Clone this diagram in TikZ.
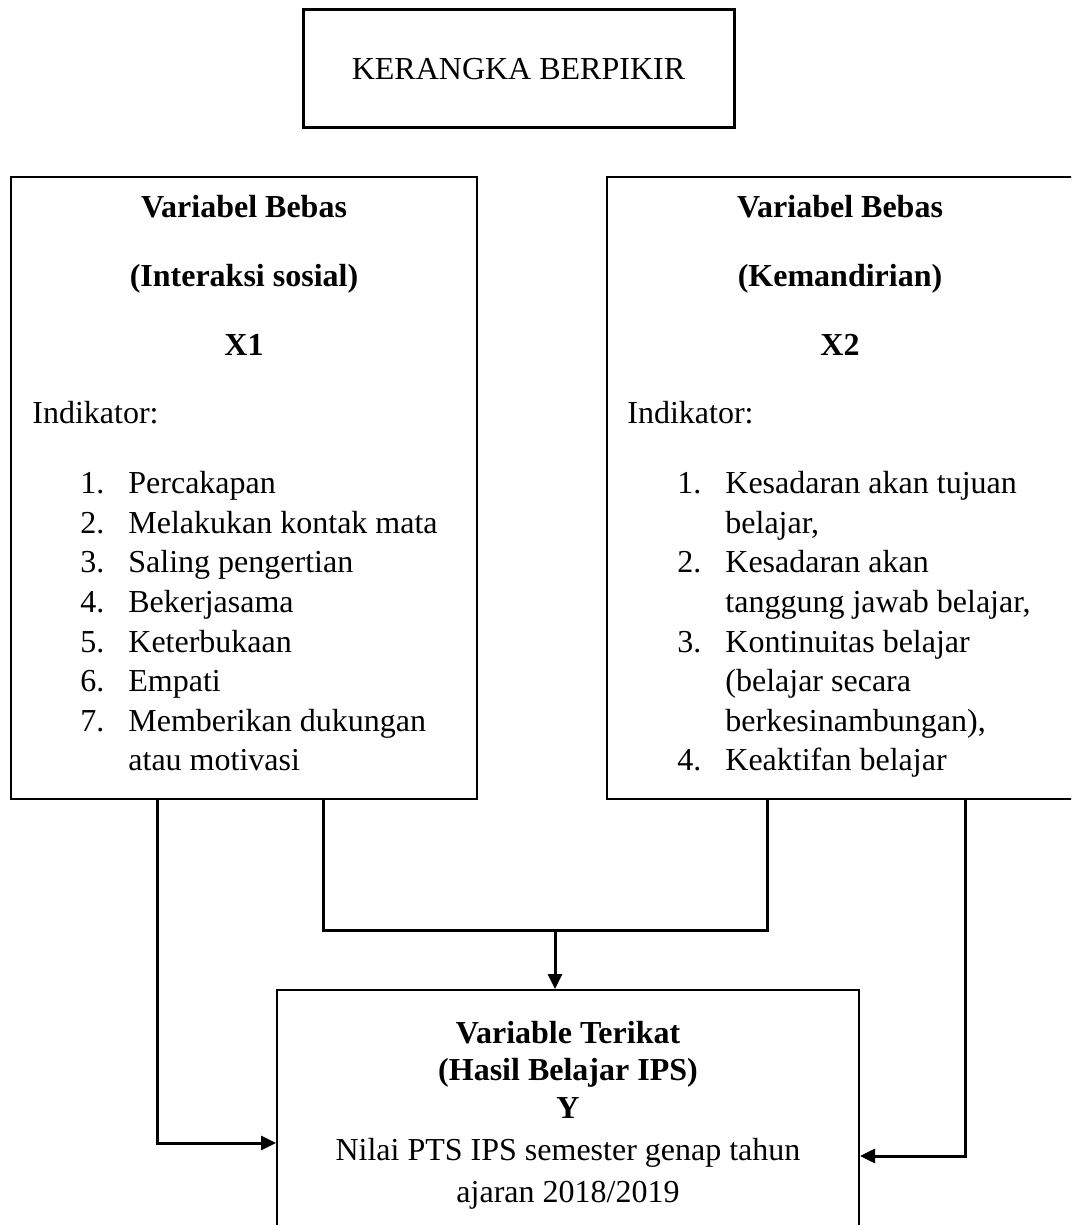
\documentclass[tikz,border=0pt]{standalone}
\usepackage{fontspec}
\setmainfont{Liberation Serif}
\usetikzlibrary{arrows.meta, positioning}

\begin{document}
\begin{tikzpicture}[x=0.5pt,y=-0.5pt,
    every node/.style={font=\fontsize{16}{19.8}\selectfont,inner sep=0pt},
    tebal/.style={font=\fontsize{16}{19.8}\selectfont\bfseries},
    kotak/.style={draw,line width=1pt,inner sep=0pt},
    garis/.style={line width=1.5pt},
    panah/.style={line width=1.5pt,-{Triangle[length=7.5pt,width=7pt]}}]
    \useasboundingbox (0,0) rectangle (1071,1225);
    \clip (0,0) rectangle (1071,1225);
    % Boxes
    \node[kotak,line width=1.5pt,minimum width=215.5pt,minimum height=59pt] (judul) at (518.5,69) {KERANGKA BERPIKIR};
    \node[kotak,minimum width=233pt,minimum height=311pt] (x1) at (244,488) {};
    \node[kotak,minimum width=233.5pt,minimum height=311pt] (x2) at (840.5,488) {};
    \node[kotak,minimum width=291pt,minimum height=125pt] (y) at (568,1115) {};
    % Headings of the two free variables
    \foreach \y/\t [count=\i] in {218/Variabel Bebas, 286/{(Interaksi sosial)}, 355/X1}
        \node[tebal,anchor=base] (x1-h\i) at (244,\y) {\t};
    \foreach \y/\t [count=\i] in {218/Variabel Bebas, 286/{(Kemandirian)}, 355/X2}
        \node[tebal,anchor=base] (x2-h\i) at (840,\y) {\t};
    \node[anchor=base west] (x1-ind) at (32,423) {Indikator:};
    \node[anchor=base west] (x2-ind) at (627,423) {Indikator:};
    % Indicator lists
    \foreach \y/\n/\t [count=\i] in {493/1./Percakapan, 533/2./Melakukan kontak mata, 572/3./Saling pengertian, 612/4./Bekerjasama, 652/5./Keterbukaan, 691/6./Empati, 731/7./Memberikan dukungan, 770//atau motivasi} {
        \node[anchor=base west] (x1-n\i) at (80,\y) {\n};
        \node[anchor=base west] (x1-t\i) at (128,\y) {\t};
    }
    \foreach \y/\n/\t [count=\i] in {493/1./Kesadaran akan tujuan, 533//{belajar,}, 572/2./Kesadaran akan, 612//{tanggung jawab belajar,}, 652/3./Kontinuitas belajar, 691//{(belajar secara}, 731//{berkesinambungan),}, 770/4./Keaktifan belajar} {
        \node[anchor=base west] (x2-n\i) at (677,\y) {\n};
        \node[anchor=base west] (x2-t\i) at (725,\y) {\t};
    }
    % Dependent variable
    \foreach \y/\t [count=\i] in {1043/Variable Terikat, 1080/{(Hasil Belajar IPS)}, 1118/Y}
        \node[tebal,anchor=base] (y-h\i) at (568,\y) {\t};
    \node[anchor=base] (y-t1) at (568,1160) {Nilai PTS IPS semester genap tahun};
    \node[anchor=base] (y-t2) at (568,1202) {ajaran 2018/2019};
    % Connectors
    \coordinate (kiri) at (157,1143);
    \coordinate (kanan) at (965,1156);
    \coordinate (a1) at (323,930);
    \coordinate (a2) at (767,930);
    \coordinate (tengah) at (555,930);
    \draw[panah] (x1.south -| kiri) |- (y.west |- kiri);
    \draw[panah] (x2.south -| kanan) |- (y.east |- kanan);
    \draw[garis] (x1.south -| a1) -- (a1) -- (a2) -- (x2.south -| a2);
    \draw[panah] (tengah) -- (y.north -| tengah);
\end{tikzpicture}
\end{document}
